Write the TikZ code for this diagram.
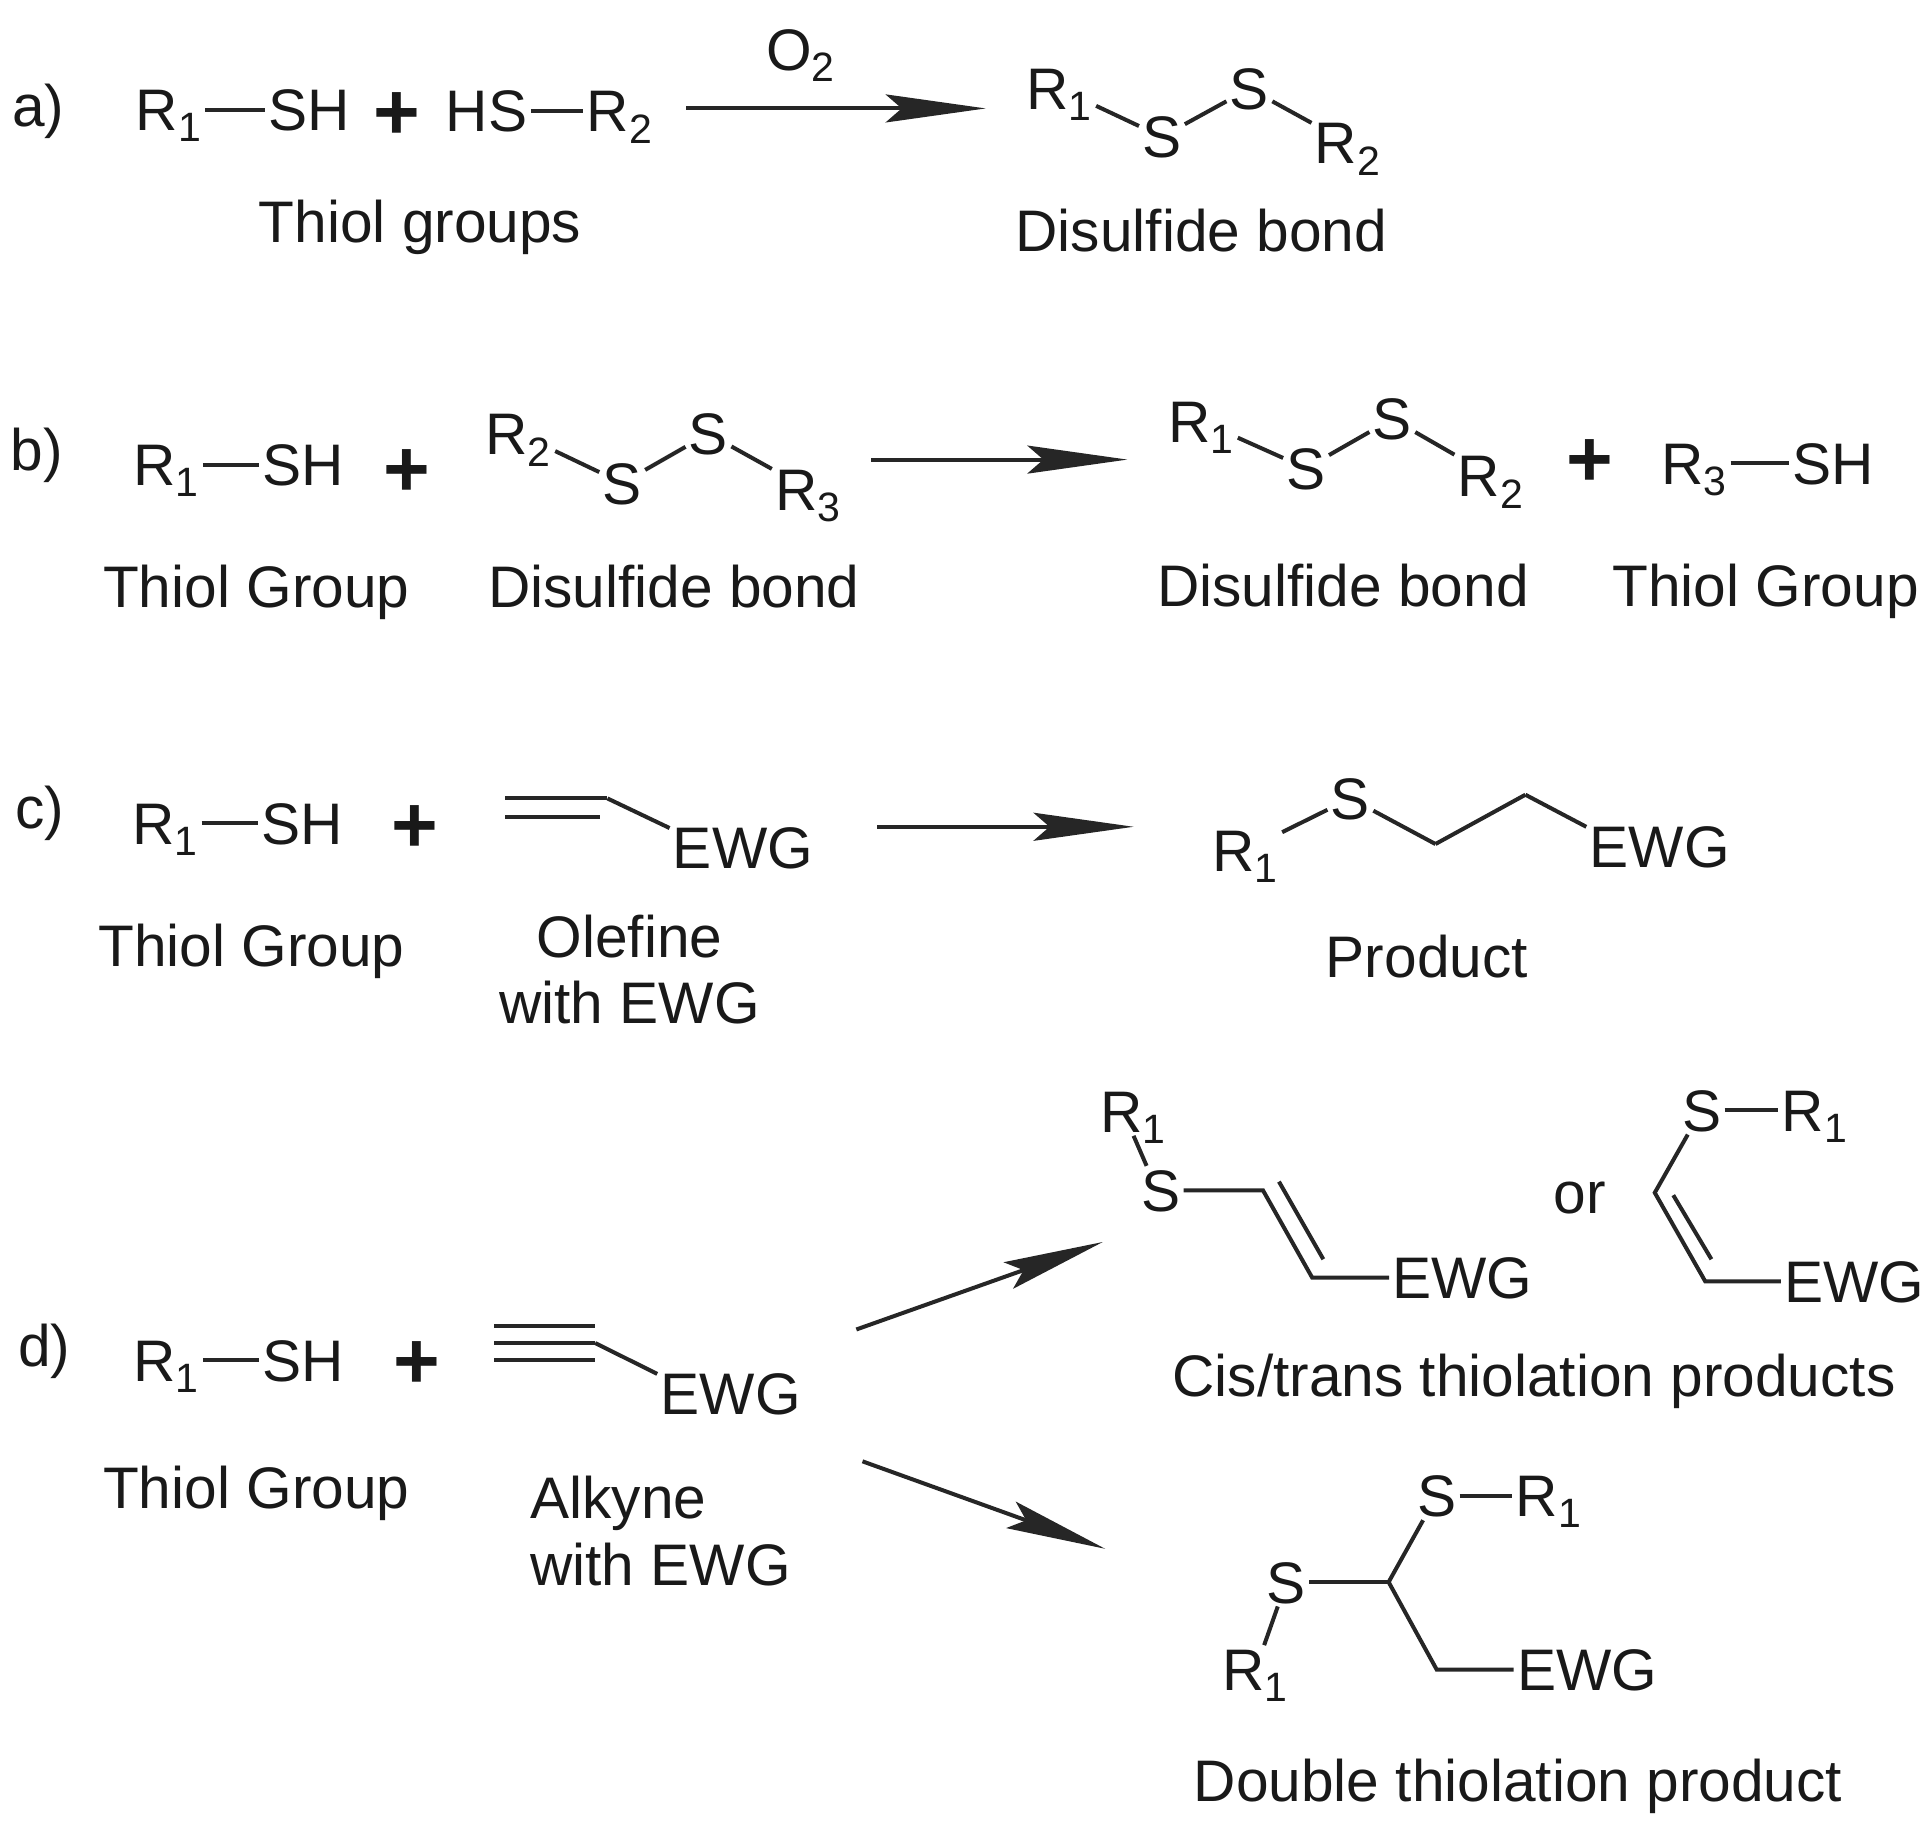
\documentclass[tikz,border=0pt]{standalone}
\usepackage{fontspec}
\setmainfont{Liberation Sans}
\usetikzlibrary{arrows.meta}
\tikzset{
  t/.style={font=\fontsize{29.3}{32}\selectfont,inner sep=1.5pt,text height=21pt,text depth=0pt,text=black!90},
  lab/.style={t,inner sep=0pt},
  pl/.style={font=\fontsize{40}{40}\selectfont\bfseries,inner sep=0pt,text=black!90},
  bond/.style={line width=2pt,draw=black!85},
  rx/.style={line width=2pt,draw=black!85,-{Stealth[length=50pt,width=14pt,inset=8pt]}},
}
\newcommand{\Ra}{R\textsubscript{1}}
\newcommand{\Rb}{R\textsubscript{2}}
\newcommand{\Rc}{R\textsubscript{3}}
\begin{document}
\begin{tikzpicture}[x=0.616pt,y=-0.616pt]
\useasboundingbox (0,0) rectangle (1568,1483.6);
% a
\node[lab] (la) at (31,86) {a)};
\node[t] (a1) at (137,89) {\Ra};
\node[t] (a2) at (251,89) {SH};
\node[pl] (ap) at (322,94) {+};
\node[t] (a3) at (395,90) {HS};
\node[t] (a4) at (503,90) {\Rb};
\node[t] (ao) at (650,40) {O\textsubscript{2}};
\coordinate (as) at (557,88); \coordinate (ae) at (800,88);
\node[t] (p1) at (860,72) {\Ra};
\node[t] (p2) at (943,111) {S};
\node[t] (p3) at (1014,72) {S};
\node[t] (p4) at (1094,116) {\Rb};
\node[lab] (at) at (341,180) {Thiol groups};
\node[lab] (ad) at (975,187) {Disulfide bond};
\draw[bond] (a1.east) -- (a2.west);
\draw[bond] (a3.east) -- (a4.west);
\draw[rx] (as) -- (ae);
\draw[bond] (p1) -- (p2);
\draw[bond] (p2) -- (p3);
\draw[bond] (p3) -- (p4);
% b
\node[lab] (lb) at (30,365) {b)};
\node[t] (b1) at (135,377) {\Ra};
\node[t] (b2) at (246,377) {SH};
\node[pl] (bp) at (330,384) {+};
\node[t] (b3) at (421,352) {\Rb};
\node[t] (b4) at (505,392) {S};
\node[t] (b5) at (575,352) {S};
\node[t] (b6) at (656,397) {\Rc};
\coordinate (bs) at (707,373); \coordinate (be) at (915,373);
\node[t] (q1) at (975,342) {\Ra};
\node[t] (q2) at (1060,380) {S};
\node[t] (q3) at (1130,340) {S};
\node[t] (q4) at (1210,386) {\Rb};
\node[pl] (bq) at (1290,376) {+};
\node[t] (q5) at (1375,376) {\Rc};
\node[t] (q6) at (1488,376) {SH};
\node[lab] (bt1) at (208,476) {Thiol Group};
\node[lab] (bd1) at (547,476) {Disulfide bond};
\node[lab] (bd2) at (1090,475) {Disulfide bond};
\node[lab] (bt2) at (1433,475) {Thiol Group};
\draw[bond] (b1.east) -- (b2.west);
\draw[bond] (b3) -- (b4);
\draw[bond] (b4) -- (b5);
\draw[bond] (b5) -- (b6);
\draw[rx] (bs) -- (be);
\draw[bond] (q1) -- (q2);
\draw[bond] (q2) -- (q3);
\draw[bond] (q3) -- (q4);
\draw[bond] (q5.east) -- (q6.west);
% c
\node[lab] (lc) at (32,655) {c)};
\node[t] (c1) at (134,668) {\Ra};
\node[t] (c2) at (245,668) {SH};
\node[pl] (cp) at (337,673) {+};
\coordinate (o2) at (493,648);
\coordinate (o3) at (410,648);
\coordinate (o5) at (410,663); \coordinate (o6) at (487,663);
\node[t] (c3) at (603,688) {EWG};
\coordinate (cs) at (712,671); \coordinate (ce) at (920,671);
\node[t] (r1) at (1011,690) {\Ra};
\node[t] (r2) at (1096,648) {S};
\coordinate (r3) at (1165,685); \coordinate (r4) at (1238,645);
\node[t] (r5) at (1347,687) {EWG};
\node[lab] (ct) at (204,767) {Thiol Group};
\node[lab] (co1) at (511,760) {Olefine};
\node[lab] (co2) at (511,814) {with EWG};
\node[lab] (cpr) at (1158,776) {Product};
\draw[bond] (c1.east) -- (c2.west);
\draw[bond] (o3) -- (o2);
\draw[bond] (o5) -- (o6);
\draw[bond] (o2) -- (c3.165);
\draw[rx] (cs) -- (ce);
\draw[bond] (r1) -- (r2);
\draw[bond] (r2) -- (r3);
\draw[bond] (r3) -- (r4);
\draw[bond] (r4) -- (r5.165);
% d
\node[lab] (ld) at (36,1092) {d)};
\node[t] (d1) at (135,1104) {\Ra};
\node[t] (d2) at (246,1104) {SH};
\node[pl] (dp) at (338,1108) {+};
\coordinate (y1) at (401,1076); \coordinate (y2) at (483,1076);
\coordinate (y3) at (401,1090); \coordinate (y4) at (483,1090);
\coordinate (y5) at (401,1104); \coordinate (y6) at (483,1104);
\node[t] (d3) at (593,1131) {EWG};
\node[lab] (dt) at (208,1207) {Thiol Group};
\node[lab] (da1) at (502,1215) {Alkyne};
\node[lab] (da2) at (536,1270) {with EWG};
\coordinate (us) at (695,1079); \coordinate (ue) at (895,1008);
\coordinate (ls) at (700,1186); \coordinate (le) at (897,1257);
\draw[bond] (d1.east) -- (d2.west);
\draw[bond] (y1) -- (y2);
\draw[bond] (y3) -- (y4);
\draw[bond] (y5) -- (y6);
\draw[bond] (y4) -- (d3.165);
\draw[rx] (us) -- (ue);
\draw[rx] (ls) -- (le);
% trans
\node[t] (u1) at (920,902) {\Ra};
\node[t] (u2) at (942,966) {S};
\coordinate (u3) at (1025,966); \coordinate (u4) at (1065,1037);
\coordinate (u5) at (1038,959); \coordinate (u6) at (1074,1022);
\node[t] (u7) at (1187,1037) {EWG};
\node[lab] (or) at (1282,968) {or};
\draw[bond] (u1.south) -- (u2.120);
\draw[bond] (u2) -- (u3) -- (u4) -- (u7);
\draw[bond] (u5) -- (u6);
% cis
\node[t] (v1) at (1381,901) {S};
\node[t] (v2) at (1473,901) {\Ra};
\coordinate (v3) at (1343,968); \coordinate (v4) at (1384,1040);
\coordinate (v5) at (1358,970); \coordinate (v6) at (1389,1022);
\node[t] (v7) at (1505,1040) {EWG};
\node[lab] (dc) at (1245,1116) {Cis/trans thiolation products};
\draw[bond] (v1) -- (v2);
\draw[bond] (v1) -- (v3) -- (v4) -- (v7);
\draw[bond] (v5) -- (v6);
% double
\node[t] (w1) at (1166,1214) {S};
\node[t] (w2) at (1257,1214) {\Ra};
\coordinate (w3) at (1127,1284); \coordinate (w4) at (1166,1355);
\node[t] (w5) at (1044,1284) {S};
\node[t] (w6) at (1019,1355) {\Ra};
\node[t] (w7) at (1288,1355) {EWG};
\node[lab] (dd) at (1232,1445) {Double thiolation product};
\draw[bond] (w1) -- (w2);
\draw[bond] (w1) -- (w3) -- (w4) -- (w7);
\draw[bond] (w5) -- (w3);
\draw[bond] (w5) -- (w6);
\end{tikzpicture}
\end{document}
